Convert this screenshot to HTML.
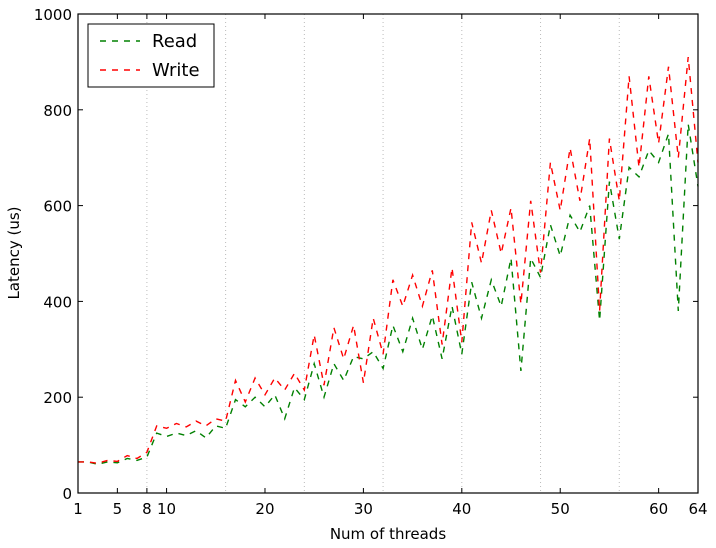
<!DOCTYPE html>
<html><head><meta charset="utf-8"><style>
body{margin:0;background:#fff;font-family:"DejaVu Sans",sans-serif}
svg text{font-family:"DejaVu Sans",sans-serif;font-size:15px;fill:#000}
</style></head><body>
<svg id="c" width="716" height="544"></svg>
<script>
const threads=[];for(let i=1;i<=64;i++)threads.push(i);
const readVals=[65,65,60,65,63,72,68,75,125,118,125,120,130,115,140,135,195,180,200,180,205,155,220,195,270,200,270,235,285,280,295,260,350,295,365,300,370,280,390,290,440,365,445,390,490,255,490,450,560,495,580,545,600,360,650,530,680,660,715,690,750,380,770,640];
const writeVals=[65,65,62,68,66,78,72,85,140,135,145,138,150,140,155,150,235,190,240,205,240,215,250,215,330,225,345,280,350,230,365,290,445,390,455,390,465,310,470,315,565,480,590,500,595,395,610,460,690,590,720,610,740,380,740,610,870,680,870,730,890,700,910,690];
const xTicks=[1,5,8,10,20,30,40,50,60,64];
const yTicks=[0,200,400,600,800,1000];
const gridX=[8,16,24,32,40,48,56];
const L=78,R=698,T=14,B=493;
const xs=v=>L+(v-1)*(R-L)/63, ys=v=>B-v*(B-T)/1000;
const svg=document.getElementById('c'),NS='http://www.w3.org/2000/svg';
function mk(t,a,p){const e=document.createElementNS(NS,t);for(const k in a)e.setAttribute(k,a[k]);(p||svg).appendChild(e);return e;}
gridX.forEach(g=>{const e=mk('line',{x1:xs(g),x2:xs(g),y1:T,y2:B,stroke:'#bbb','stroke-dasharray':'1,3'});

});
function series(vals,col,name){const d=vals.map((v,i)=>(i?'L':'M')+xs(threads[i]).toFixed(1)+','+ys(v).toFixed(1)).join('');
const e=mk('path',{d:d,fill:'none',stroke:col,'stroke-width':1.4,'stroke-dasharray':'6,6'});

}
series(readVals,'#008000','read-line');
series(writeVals,'#ff0000','write-line');
const fr=mk('rect',{x:L,y:T,width:R-L,height:B-T,fill:'none',stroke:'#000','stroke-width':1.2});


xTicks.forEach(t=>{mk('line',{x1:xs(t),x2:xs(t),y1:B,y2:B-5,stroke:'#000'});mk('line',{x1:xs(t),x2:xs(t),y1:T,y2:T+5,stroke:'#000'});
const e=mk('text',{x:xs(t),y:B+21,'text-anchor':'middle'});e.textContent=t;

});
yTicks.forEach(t=>{mk('line',{x1:L,x2:L+5,y1:ys(t),y2:ys(t),stroke:'#000'});mk('line',{x1:R,x2:R-5,y1:ys(t),y2:ys(t),stroke:'#000'});
const e=mk('text',{x:L-6,y:ys(t)+6,'text-anchor':'end'});e.textContent=t;

});
</script>
<svg width="716" height="544" style="position:absolute;left:0;top:0">
<text x="388" y="539" text-anchor="middle">Num of threads</text>
<text transform="translate(19,253) rotate(-90)" text-anchor="middle">Latency (us)</text>
<g>
<rect x="88" y="24" width="126" height="63" fill="#fff" stroke="#000"/>
<line x1="100" x2="140" y1="41" y2="41" stroke="#008000" stroke-width="1.4" stroke-dasharray="6,6"/>
<text x="152" y="47" style="font-size:18px">Read</text>
<line x1="100" x2="140" y1="70" y2="70" stroke="#ff0000" stroke-width="1.4" stroke-dasharray="6,6"/>
<text x="152" y="76" style="font-size:18px">Write</text>
</g>
</svg>
</body></html>
